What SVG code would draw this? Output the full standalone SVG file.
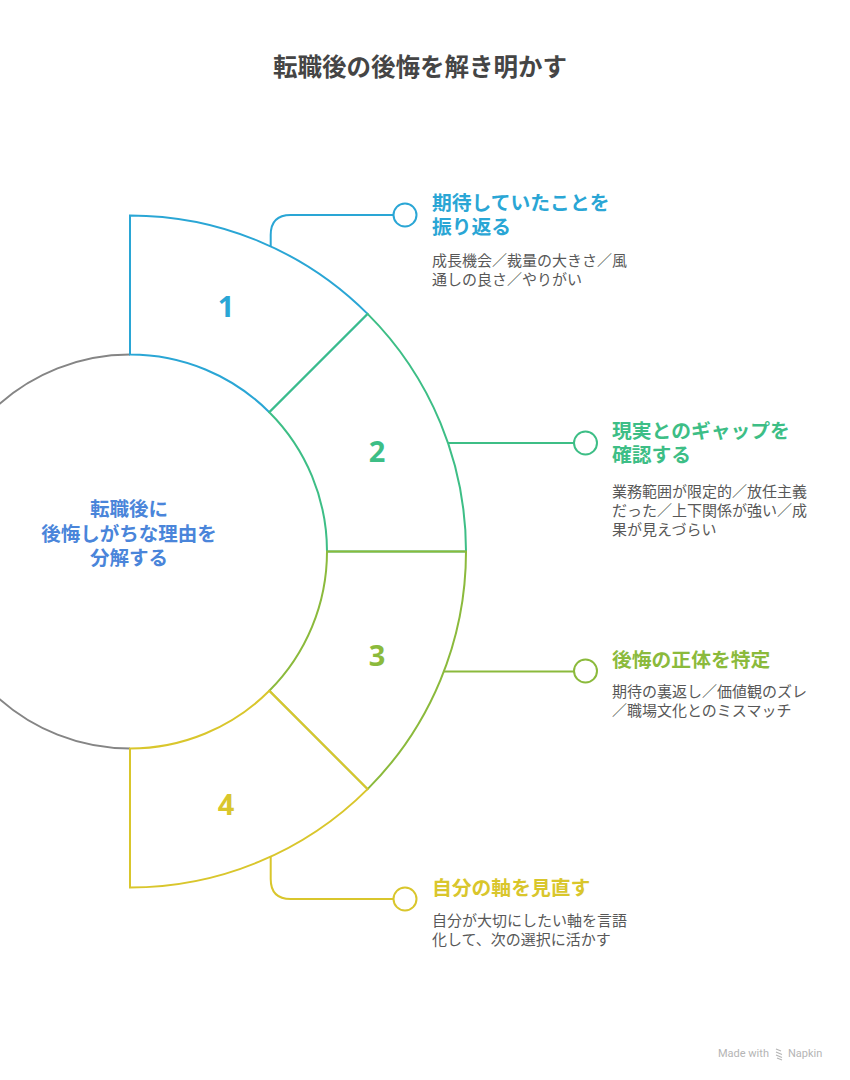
<svg xmlns="http://www.w3.org/2000/svg" width="850" height="1080" viewBox="0 0 850 1080">
<style>
.jp{font-family:"Noto Sans CJK JP","Noto Sans",sans-serif}
.title{font-size:24.5px;font-weight:700;fill:#454545}
.center{font-size:19.5px;font-weight:700;fill:#4A85DA}
.num{font-family:"Noto Sans","Liberation Sans",sans-serif;font-size:29px;font-weight:700}
.head{font-size:19.8px;font-weight:700}
.body{font-size:15px;fill:#585858}
.seg{fill:none;stroke-width:2;stroke-linejoin:miter}
.con{fill:none;stroke-width:2}
.dot{fill:#fff;stroke-width:2}
.c1{stroke:#2AA6D5}.t1{fill:#2AA6D5}
.c2{stroke:#3DBE86}.t2{fill:#3DBE86}
.c3{stroke:#8BBA3C}.t3{fill:#8BBA3C}
.c4{stroke:#D9C62C}.t4{fill:#D9C62C}
</style>
<rect width="850" height="1080" fill="#ffffff"/>
<text class="jp title" x="420" y="76" text-anchor="middle">転職後の後悔を解き明かす</text>

<g id="center">
<path d="M130,354.5 A197,197 0 0 0 130,748.5" fill="none" stroke="#858585" stroke-width="2"/>
<text class="jp center" text-anchor="middle"><tspan x="129" y="516">転職後に</tspan><tspan x="129" y="541">後悔しがちな理由を</tspan><tspan x="129" y="565">分解する</tspan></text>
</g>

<g id="seg1">
<path class="seg c1" d="M130,354.5 L130,215.5 A336,336 0 0 1 367.59,313.91 L269.30,412.20 A197,197 0 0 0 130,354.5 Z"/>
<text class="num t1" x="226" y="316.5" text-anchor="middle">1</text>
</g>
<g id="seg2">
<path class="seg c2" d="M269.30,412.20 L367.59,313.91 A336,336 0 0 1 466,551.5 L327,551.5 A197,197 0 0 0 269.30,412.20 Z"/>
<text class="num t2" x="377" y="461.5" text-anchor="middle">2</text>
</g>
<g id="seg3">
<path class="seg c3" d="M327,551.5 L466,551.5 A336,336 0 0 1 367.59,789.09 L269.30,690.80 A197,197 0 0 0 327,551.5 Z"/>
<text class="num t3" x="377" y="665.5" text-anchor="middle">3</text>
</g>
<g id="seg4">
<path class="seg c4" d="M269.30,690.80 L367.59,789.09 A336,336 0 0 1 130,887.5 L130,748.5 A197,197 0 0 0 269.30,690.80 Z"/>
<text class="num t4" x="226" y="814.5" text-anchor="middle">4</text>
</g>

<g id="connectors">
<path class="con c1" d="M270.7,246.4 L270.7,235 Q270.7,215 290.7,215 L393.5,215"/>
<circle class="dot c1" cx="405" cy="215" r="11.5"/>
<path class="con c2" d="M448,443 L574,443"/>
<circle class="dot c2" cx="585.5" cy="443" r="11.5"/>
<path class="con c3" d="M443.6,671.5 L574,671.5"/>
<circle class="dot c3" cx="585.5" cy="671" r="11.5"/>
<path class="con c4" d="M270.7,856.6 L270.7,879 Q270.7,899 290.7,899 L393.5,899"/>
<circle class="dot c4" cx="405" cy="899" r="11.5"/>
</g>

<g id="label1">
<text class="jp head t1"><tspan x="432" y="210">期待していたことを</tspan><tspan x="432" y="234">振り返る</tspan></text>
<text class="jp body"><tspan x="432" y="266">成長機会／裁量の大きさ／風</tspan><tspan x="432" y="285">通しの良さ／やりがい</tspan></text>
</g>
<g id="label2">
<text class="jp head t2"><tspan x="612" y="438">現実とのギャップを</tspan><tspan x="612" y="462">確認する</tspan></text>
<text class="jp body"><tspan x="612" y="497">業務範囲が限定的／放任主義</tspan><tspan x="612" y="516">だった／上下関係が強い／成</tspan><tspan x="612" y="535">果が見えづらい</tspan></text>
</g>
<g id="label3">
<text class="jp head t3"><tspan x="612" y="667">後悔の正体を特定</tspan></text>
<text class="jp body"><tspan x="612" y="697">期待の裏返し／価値観のズレ</tspan><tspan x="612" y="716">／職場文化とのミスマッチ</tspan></text>
</g>
<g id="label4">
<text class="jp head t4"><tspan x="432" y="895">自分の軸を見直す</tspan></text>
<text class="jp body"><tspan x="432" y="926">自分が大切にしたい軸を言語</tspan><tspan x="432" y="945">化して、次の選択に活かす</tspan></text>
</g>

<g id="watermark" fill="#b5b5b5" font-family="Roboto,'Liberation Sans',sans-serif" font-size="11">
<text x="718" y="1057">Made with</text>
<path d="M776,1049 l5,2 M776,1052 l6,2.5 M776,1055 l6,2.5 M777,1058 l5,2" stroke="#b5b5b5" stroke-width="1.2" fill="none"/>
<text x="788" y="1057">Napkin</text>
</g>
</svg>
